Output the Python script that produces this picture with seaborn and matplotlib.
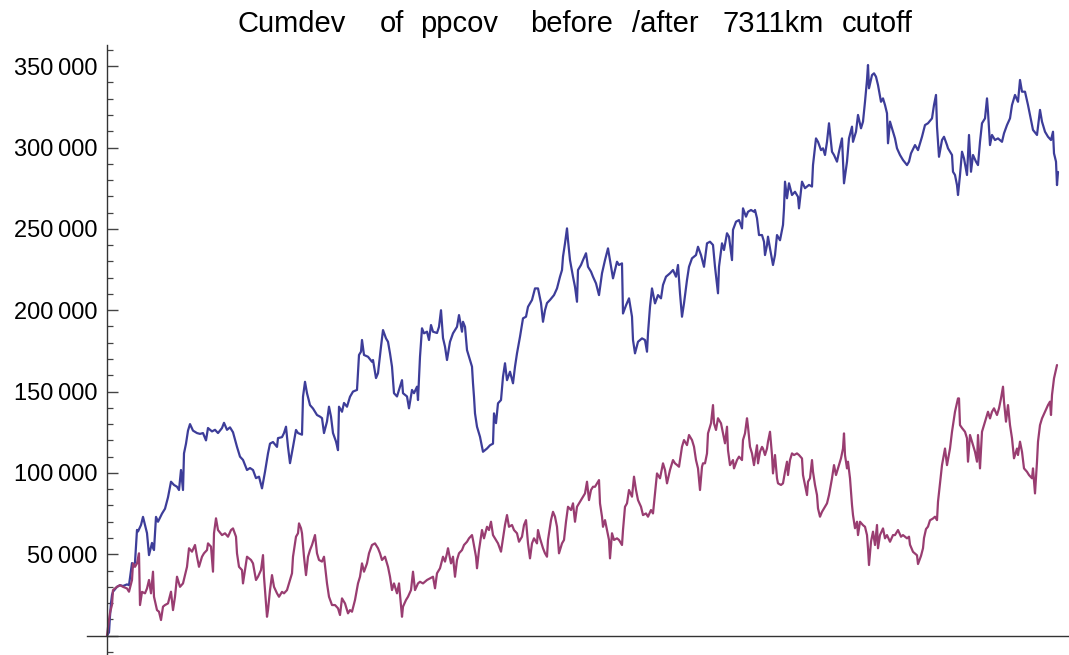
import numpy as np
import pandas as pd
import matplotlib
matplotlib.use("Agg")
import matplotlib.pyplot as plt
from matplotlib.ticker import MultipleLocator, FuncFormatter
import seaborn as sns

# Cumulative deviation, stations before the 7311 km cutoff (values in thousands)
blue_step = [0, 2, 3, 4, 5, 6, 10, 13, 16, 20, 22, 25, 26, 28, 30, 31, 34, 36, 38, 40, 42, 45, 46, 47, 49, 51, 55, 58, 61, 64,
             67, 70, 72, 74, 76, 77, 79, 81, 83, 86, 90, 93, 96, 99, 101, 105, 108, 111, 115, 117, 120, 123, 126, 130, 133, 136, 140, 143, 146, 149,
             152, 155, 158, 161, 163, 166, 170, 171, 175, 177, 179, 181, 183, 186, 189, 191, 195, 196, 198, 200, 203, 206, 210, 213, 215, 217, 220, 222, 224, 226,
             229, 231, 232, 235, 237, 240, 243, 246, 250, 252, 254, 255, 257, 261, 265, 266, 269, 271, 274, 276, 279, 281, 283, 285, 287, 290, 292, 295, 296, 300,
             302, 305, 307, 310, 311, 313, 315, 317, 320, 322, 324, 326, 330, 332, 334, 336, 338, 340, 343, 346, 350, 352, 355, 356, 358, 360, 362, 365, 366, 367,
             368, 370, 373, 376, 380, 383, 386, 387, 389, 391, 394, 396, 398, 400, 403, 406, 408, 410, 413, 416, 419, 421, 425, 428, 431, 434, 436, 438, 440, 443,
             447, 450, 453, 455, 456, 458, 460, 461, 463, 466, 468, 470, 471, 474, 476, 479, 481, 484, 486, 489, 492, 495, 498, 501, 504, 506, 510, 512, 515, 516,
             519, 522, 525, 526, 528, 531, 535, 538, 540, 541, 543, 545, 548, 551, 554, 556, 559, 563, 566, 569, 571, 573, 575, 577, 580, 582, 585, 589, 591, 594,
             597, 600, 603, 606, 608, 611, 612, 615, 617, 620, 622, 625, 626, 629, 632, 635, 636, 639, 641, 644, 647, 648, 650, 652, 655, 657, 658, 660, 661, 663,
             666, 668, 670, 673, 676, 677, 678, 680, 682, 685, 688, 691, 692, 695, 698, 702, 705, 706, 709, 711, 714, 716, 718, 720, 722, 725, 727, 730, 732, 735,
             737, 740, 742, 745, 746, 749, 751, 754, 756, 758, 760, 761, 762, 765, 767, 769, 771, 774, 776, 778, 780, 781, 783, 786, 788, 790, 793, 796, 800, 802,
             804, 808, 811, 815, 818, 821, 825, 827, 829, 830, 832, 835, 837, 840, 841, 845, 846, 848, 850, 851, 853, 855, 857, 860, 862, 864, 866, 869, 871, 873,
             875, 878, 880, 881, 883, 885, 888, 891, 895, 897, 900, 903, 905, 908, 911, 913, 915, 918, 921, 923, 926, 930, 933, 935, 938, 941, 944, 946, 947, 949,
             950, 951]
blue_k = [0, 2, 12, 20, 25, 27, 30, 31, 30.5, 31.5, 31, 44.6, 42, 45, 65, 64, 68, 73, 68, 63, 49.5, 57, 54, 52.6, 73, 70, 75, 78, 85, 94.6,
          92.6, 91.5, 89.5, 101.8, 89.5, 112, 118, 126, 130, 126, 124.5, 124, 124.5, 120, 127.6, 125.5, 126.5, 124.5, 127.6, 130.8, 126.5, 128, 125, 116, 110, 108, 101.8, 103, 101.8, 96.8,
          97.7, 90.5, 100.7, 112, 118, 119, 116, 121.4, 122, 124.5, 128.4, 116, 106, 116, 126.4, 124.5, 123.5, 146.8, 156, 149, 141.7, 139.6, 135.6, 134.6, 133.7, 124.5, 131.6, 140.7, 134.6, 124.5,
          119.3, 114, 140.7, 137.6, 143, 140.7, 146.8, 150, 151, 172.5, 174.5, 181.7, 172.5, 171.4, 168.3, 169.4, 158.3, 161.3, 177.6, 187.8, 182.7, 180.6, 173.5, 165.3, 149, 147, 151, 157, 149, 147,
          139.7, 151, 149, 153, 144.8, 171.4, 188.9, 185.8, 186.8, 181.7, 190.9, 186.8, 186, 189.8, 200, 182.9, 177.6, 169.4, 180.6, 185.8, 189.8, 197, 186.8, 192.9, 189.8, 175.5, 171.4, 165.3, 155.1, 146.8,
          136.6, 128.4, 122.2, 113, 115, 117, 118, 136.6, 130.6, 142.8, 144.8, 159.1, 167.4, 157, 162.2, 155.1, 165.3, 173.5, 183.7, 195, 196, 202.1, 206.3, 213.4, 213.4, 204.4, 192.9, 200, 204.4, 206.3,
          209.3, 213.4, 220.6, 224.7, 232.9, 241.1, 250.3, 243, 230.8, 220.6, 214.4, 205.2, 224.7, 227.8, 230.8, 235, 226.7, 223.7, 220.6, 216.5, 209.3, 222.7, 230.8, 238, 227, 219.6, 229.8, 227.8, 228.8, 198,
          203, 207.3, 196, 181.7, 173.5, 180.6, 182.7, 181.7, 174.5, 185.8, 202.1, 213.4, 204.2, 209.3, 207.3, 215.5, 220.6, 222.7, 224.7, 220.6, 227.8, 210.4, 196, 204.2, 218.6, 226.7, 231.9, 233.9, 239, 233.9,
          226.7, 241.1, 242.1, 240.1, 226.7, 210.4, 226.7, 241.1, 237, 247.3, 245.2, 230.8, 249.4, 254.4, 255.4, 250.3, 262.6, 257.5, 260.5, 261.6, 260.5, 261.6, 256.5, 246.2, 246.2, 242.1, 233.9, 240, 245.2, 238,
          227.8, 233.9, 246.2, 243, 252.4, 262.6, 279, 268.8, 278, 270.8, 272.8, 269.7, 262.6, 279, 275, 277, 276, 289.2, 305.6, 303.5, 298.4, 299.5, 295.4, 303.5, 314.9, 297.4, 295.4, 291.3, 297.4, 305.6,
          278, 291.3, 305.6, 312.8, 303.5, 309.7, 320, 311.8, 315.9, 328.1, 341.5, 350.7, 336.4, 344.5, 345.6, 343.5, 338.4, 328.1, 330.2, 326.1, 321, 302.6, 315.9, 309.7, 305.6, 299.5, 295.4, 292.3, 289.2, 291.3,
          296.4, 301.5, 298.4, 306.6, 313.8, 314.9, 317.9, 326.1, 332.3, 312.8, 294.3, 304.6, 306.6, 301.5, 299.5, 295.4, 285.1, 283.1, 276.9, 270.8, 283.1, 297.4, 293.3, 283.1, 307.7, 285.1, 295.4, 291.3, 289.2, 303.5,
          314.9, 317.9, 330.2, 322, 301.5, 307.7, 304.6, 305.6, 303.5, 308.7, 313.8, 317.9, 326.1, 332.3, 328.1, 341.5, 334.3, 334.3, 326.1, 320, 310.8, 307.7, 323.1, 315.9, 309.7, 306.6, 304.6, 309.7, 296.4, 291.3,
          276.9, 285]

# Cumulative deviation, stations after the cutoff (values in thousands)
purple_step = [0, 1, 3, 5, 6, 10, 13, 16, 20, 22, 25, 26, 28, 30, 32, 33, 35, 38, 40, 42, 44, 46, 47, 50, 52, 54, 56, 58, 61, 64,
               66, 68, 70, 73, 76, 78, 80, 82, 85, 88, 90, 92, 95, 97, 100, 101, 104, 106, 107, 109, 111, 115, 118, 121, 124, 126, 129, 130, 132, 135,
               136, 138, 140, 144, 146, 149, 151, 154, 156, 157, 160, 161, 163, 165, 167, 170, 172, 175, 177, 180, 182, 185, 186, 189, 191, 192, 194, 195, 197, 199,
               201, 203, 205, 208, 210, 212, 215, 217, 220, 222, 225, 228, 231, 233, 235, 238, 241, 243, 245, 248, 251, 253, 255, 257, 260, 262, 265, 268, 271, 273,
               275, 278, 281, 283, 285, 287, 290, 292, 295, 296, 299, 301, 304, 306, 308, 311, 313, 316, 320, 323, 326, 328, 330, 333, 336, 338, 340, 341, 344, 346,
               348, 350, 352, 355, 357, 360, 362, 365, 366, 369, 370, 372, 375, 377, 380, 382, 384, 386, 389, 391, 394, 396, 398, 400, 402, 405, 407, 410, 412, 415,
               417, 419, 421, 423, 425, 427, 430, 431, 433, 436, 438, 440, 441, 444, 446, 448, 450, 452, 455, 457, 459, 461, 464, 466, 468, 470, 473, 476, 478, 480,
               482, 484, 486, 488, 490, 492, 493, 495, 496, 498, 500, 502, 503, 505, 507, 510, 512, 515, 516, 518, 520, 522, 525, 527, 529, 531, 534, 536, 539, 541,
               544, 546, 548, 550, 553, 556, 558, 560, 563, 566, 568, 570, 572, 575, 577, 580, 582, 585, 587, 589, 591, 593, 595, 596, 598, 600, 601, 604, 606, 607,
               609, 611, 614, 616, 618, 620, 621, 623, 626, 627, 630, 632, 635, 636, 638, 640, 641, 643, 645, 647, 650, 651, 653, 655, 656, 658, 660, 661, 663, 665,
               666, 668, 670, 671, 674, 676, 678, 680, 681, 683, 685, 687, 690, 692, 695, 696, 698, 700, 701, 703, 705, 706, 708, 710, 711, 713, 715, 717, 720, 722,
               725, 727, 729, 731, 734, 736, 737, 738, 740, 741, 743, 745, 746, 748, 750, 751, 753, 756, 758, 760, 761, 762, 764, 766, 768, 770, 771, 773, 776, 778,
               780, 783, 786, 788, 791, 794, 796, 800, 802, 803, 806, 810, 811, 814, 816, 817, 819, 821, 823, 826, 828, 830, 831, 835, 838, 840, 843, 845, 848, 851,
               852, 853, 855, 858, 860, 861, 863, 865, 868, 870, 871, 873, 875, 878, 881, 883, 885, 887, 890, 892, 894, 896, 897, 899, 901, 903, 905, 907, 910, 911,
               913, 915, 917, 920, 922, 925, 926, 928, 930, 931, 933, 935, 938, 941, 943, 944, 945, 947, 950]
purple_k = [0, 5, 14, 19, 28, 30, 31, 30, 29, 27, 34.2, 44.4, 42.3, 44.4, 50.6, 18.8, 26.9, 26, 29, 34.2, 26, 39.3, 23.9, 15.7, 14.7, 9.6, 17.8, 18.8, 19.8, 27,
            15.7, 23.9, 36.2, 30, 32.1, 37.2, 42.3, 53.7, 51.6, 55.7, 48.5, 42.3, 48.5, 50.6, 52.6, 56.7, 54.7, 39.3, 62.9, 72.1, 64.9, 61.8, 62.9, 60.8, 64.9, 65.9, 60.8, 50.6, 42.3, 40.3,
            32.1, 40.3, 48.5, 46.5, 44.4, 34.2, 36.2, 40.3, 49.5, 36.2, 11.6, 15.7, 28, 37.2, 30, 26, 23.9, 26.9, 26, 28, 32.1, 38.3, 48.5, 60.8, 62.9, 69, 66, 62.9, 48.5, 37.2,
            48.5, 52.6, 55.7, 61.8, 50.6, 46.5, 45.5, 48.5, 32.1, 23.9, 18.8, 18.8, 16.8, 12.7, 22.9, 19.8, 13.7, 15.7, 14.7, 21.9, 32.1, 36.2, 44.4, 39.3, 44.4, 50.6, 55.7, 56.7, 53.7, 50.6,
            46.5, 48.5, 42.3, 36.2, 28, 32.1, 26, 32.1, 11.6, 17.8, 21.9, 23.9, 28, 39.3, 28, 32.1, 33.1, 32.1, 34.2, 35.2, 36.2, 29.1, 38.3, 41.4, 48.5, 45.5, 50.6, 53.7, 44.4, 48.5,
            36.2, 46.5, 50.6, 52.6, 55.7, 57.7, 59.8, 61.8, 58.8, 48.5, 41.4, 52.6, 64.9, 59.8, 66.9, 64.9, 70, 61.8, 58.8, 56.7, 51.6, 59.8, 68, 74.1, 66.9, 68, 64.9, 62.9, 57.7, 60.8,
            68, 71, 56.7, 47.5, 56.7, 59.8, 56.7, 64.9, 59.8, 53.7, 50.6, 48.5, 58.8, 71, 76.1, 73.1, 66.9, 50.6, 56.7, 58.8, 70, 79.2, 77.2, 81.3, 70, 79.2, 82.3, 85.4, 87.4, 94.6,
            83.3, 89.5, 91.5, 91.5, 93.6, 95.6, 81.3, 73.1, 66.9, 71, 64.9, 58.8, 47.5, 62.9, 58.8, 59.8, 58.8, 55.7, 64.9, 79.2, 81.3, 89.5, 85.4, 97.7, 89.5, 83.3, 79.2, 74.1, 75.1, 73.1,
            77.2, 75.1, 87.4, 99.7, 96.7, 105.9, 101.8, 93.6, 101.8, 107.9, 105.9, 104.9, 103.8, 116.1, 120.2, 117.1, 123.3, 120.2, 116.1, 107.9, 102.8, 89.5, 103.8, 105.9, 105.9, 112, 124.3, 130.5, 141.7, 130.5,
            126.4, 133.6, 130.5, 124.3, 118.2, 128.4, 114, 104.8, 107.9, 102.8, 107.9, 110, 107.9, 120.2, 124.3, 133.6, 128.4, 116.1, 112, 104.8, 117, 105.9, 113, 116, 115, 111, 115, 119.2, 125.3, 111,
            99.7, 111, 96.7, 93.6, 92.6, 93.6, 100.7, 106.9, 98.7, 107.9, 112, 111, 112, 111, 108.9, 98.7, 92.6, 86.4, 94.6, 96.7, 107.9, 100.7, 92.6, 86.4, 78.2, 73.1, 76.1, 78.2, 81.3, 86.4,
            96.7, 104.8, 98.7, 102.8, 109, 115, 124.3, 111, 102.8, 106.9, 96.7, 80.3, 74.1, 66, 70, 61.8, 70, 67.9, 66.9, 61.8, 53.7, 43.4, 57.7, 63.9, 55.7, 68, 53.7, 61.8, 65.9, 59.8,
            61.8, 57.7, 61.8, 61.8, 64.9, 60.8, 61.8, 59.8, 60.8, 55.9, 51.5, 49.4, 44, 49, 53.7, 60, 65.5, 67, 70.9, 72, 73.1, 71, 82.3, 104.8, 115, 104.8, 115, 125.3, 137.6, 145.8,
            145.8, 129.4, 127.6, 125.3, 121.3, 106.9, 123.3, 119.2, 113, 106.9, 123.3, 102.8, 125.3, 131.5, 137.6, 133.5, 137.6, 139.7, 135.6, 139.7, 145.8, 153, 143.8, 131.5, 141.7, 129.4, 121.3, 109, 115, 111,
            119.2, 113, 102.8, 100.7, 98.7, 96.7, 102.8, 87.4, 106.9, 119.2, 129.4, 133.5, 137.6, 141.7, 143.8, 135.6, 147.9, 158.1, 166.3]

series_colors = {"before": "#3d3d99", "after": "#993d71"}

# title words with their centres (figure pixels)
title_words = ["Cumdev", "of", "ppcov", "before", "/after", "7311km", "cutoff"]
title_center_px = [292, 392, 459, 572, 665, 773, 877]

sns.set_style("white")
plt.rcParams["font.family"] = ["Liberation Sans", "DejaVu Sans"]

frames = [
    pd.DataFrame({"step": blue_step, "cumdev": np.array(blue_k) * 1000.0, "series": "before"}),
    pd.DataFrame({"step": purple_step, "cumdev": np.array(purple_k) * 1000.0, "series": "after"}),
]
df = pd.concat(frames, ignore_index=True)

W, H = 1069, 655
fig = plt.figure(figsize=(W / 100, H / 100), dpi=100)
ax = fig.add_axes([87 / W, 0.0, 982 / W, 610 / H])

sns.lineplot(data=df, x="step", y="cumdev", hue="series", hue_order=["before", "after"],
             palette=series_colors, estimator=None, sort=False, legend=False,
             linewidth=1.6, ax=ax)

ax.set_xlim(-20, 962)
ax.set_ylim(-11900, 363000)

# axes crossing at the origin
for side in ("top", "right"):
    ax.spines[side].set_visible(False)
ax.spines["left"].set_position(("data", 0))
ax.spines["bottom"].set_position(("data", 0))
for side in ("left", "bottom"):
    ax.spines[side].set_color("#333333")
    ax.spines[side].set_linewidth(1.0)

ax.set_xticks([])
ax.yaxis.set_major_locator(MultipleLocator(50000))
ax.yaxis.set_minor_locator(MultipleLocator(10000))


def fmt(v, _pos):
    if v <= 0:
        return ""
    return f"{int(round(v)):,}".replace(",", "\u2009")


ax.yaxis.set_major_formatter(FuncFormatter(fmt))
ax.tick_params(axis="y", which="both", left=True, right=False)
ax.tick_params(axis="y", which="major", direction="in", length=8, width=1.0,
               color="#444444", labelsize=17, pad=7, labelcolor="black")
ax.tick_params(axis="y", which="minor", direction="in", length=4.5, width=0.9, color="#444444")
ax.set_xlabel("")
ax.set_ylabel("")

for word, centre in zip(title_words, title_center_px):
    fig.text(centre / W, 1 - 32 / H, word, ha="center", va="baseline",
             fontsize=21, color="black")

fig.savefig("out.png", dpi=100)
